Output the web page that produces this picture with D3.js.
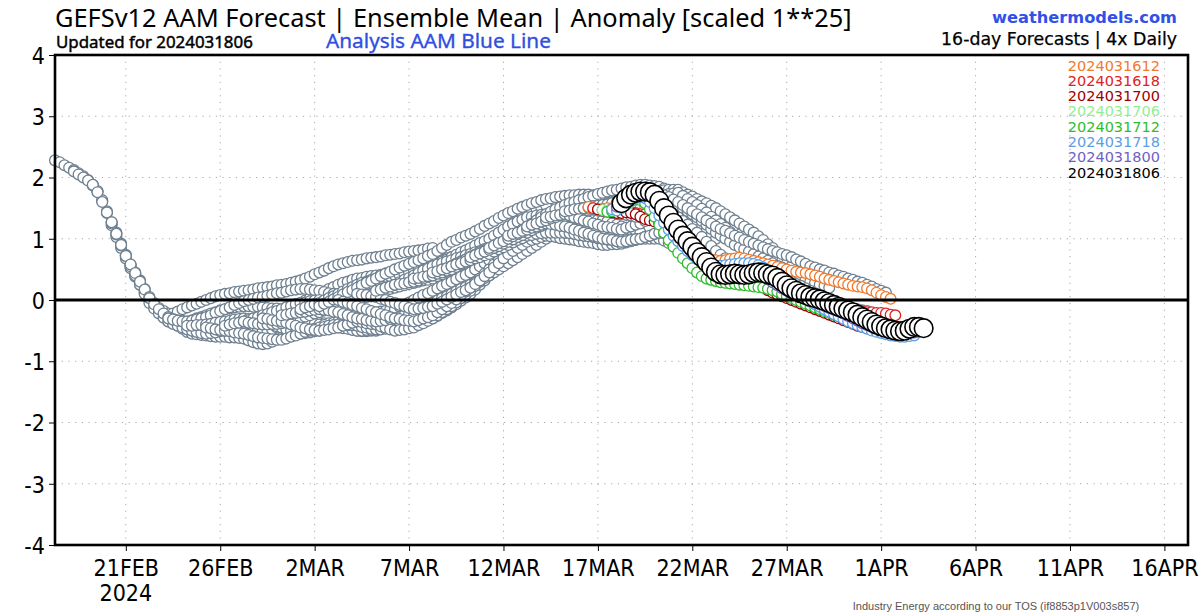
<!DOCTYPE html>
<html><head><meta charset="utf-8">
<script src="https://cdn.jsdelivr.net/npm/d3@7"></script>
<style>html,body{margin:0;padding:0;background:#fff}svg{display:block}</style>
</head><body>
<svg id="chart" width="1200" height="616"></svg>
<script>
// ---------------- DATA ----------------
const yTickValues = [-4,-3,-2,-1,0,1,2,3,4];
const xTickDates = ["2024-02-21T00:00Z","2024-02-26T00:00Z","2024-03-02T00:00Z","2024-03-07T00:00Z","2024-03-12T00:00Z","2024-03-17T00:00Z","2024-03-22T00:00Z","2024-03-27T00:00Z","2024-04-01T00:00Z","2024-04-06T00:00Z","2024-04-11T00:00Z","2024-04-16T00:00Z"];
const xTickLabels = ["21FEB","26FEB","2MAR","7MAR","12MAR","17MAR","22MAR","27MAR","1APR","6APR","11APR","16APR"];
const xDomain = ["2024-02-17T06:00Z","2024-04-17T06:00Z"];

// older forecasts (grey), 6-hourly values from their init time (06z each day)
const grayInits = ["2024-02-17","2024-02-18","2024-02-19","2024-02-20","2024-02-21","2024-02-22","2024-02-23","2024-02-24","2024-02-25","2024-02-26","2024-02-27","2024-02-28","2024-02-29","2024-03-01","2024-03-02","2024-03-03","2024-03-04","2024-03-05","2024-03-06","2024-03-07","2024-03-08","2024-03-09","2024-03-10","2024-03-11","2024-03-12","2024-03-13","2024-03-14","2024-03-15","2024-03-16"];
const g0217 = [2.28,2.25,2.20,2.16,2.12,2.07,2.02,1.96,1.88,1.77,1.62,1.45,1.27,1.10,0.92,0.74,0.58,0.45,0.32,0.18,0.03,-0.08,-0.17,-0.24,-0.30,-0.35,-0.38,-0.40,-0.42,-0.44,-0.46,-0.48,-0.50,-0.50,-0.49,-0.47,-0.45,-0.42,-0.40,-0.39,-0.40,-0.42,-0.45,-0.48,-0.50,-0.50,-0.48,-0.45,-0.42,-0.40,-0.38,-0.36,-0.35,-0.34,-0.34,-0.35,-0.37,-0.38,-0.38,-0.37,-0.35,-0.32,-0.30,-0.28,-0.25];
const g0218 = [2.10,2.05,2.00,1.95,1.87,1.78,1.63,1.42,1.22,1.03,0.85,0.68,0.52,0.38,0.25,0.12,0.00,-0.10,-0.19,-0.27,-0.33,-0.38,-0.42,-0.47,-0.52,-0.55,-0.56,-0.57,-0.58,-0.59,-0.60,-0.60,-0.60,-0.61,-0.61,-0.62,-0.63,-0.66,-0.69,-0.71,-0.72,-0.71,-0.68,-0.65,-0.62,-0.59,-0.56,-0.54,-0.52,-0.50,-0.48,-0.46,-0.45,-0.44,-0.43,-0.42,-0.42,-0.44,-0.46,-0.48,-0.50,-0.51,-0.51,-0.50,-0.50];
const g0219 = [1.88,1.76,1.60,1.43,1.25,1.07,0.89,0.72,0.56,0.42,0.28,0.14,0.00,-0.11,-0.20,-0.28,-0.35,-0.38,-0.41,-0.43,-0.45,-0.47,-0.48,-0.49,-0.50,-0.50,-0.49,-0.49,-0.48,-0.46,-0.44,-0.42,-0.40,-0.37,-0.35,-0.32,-0.30,-0.29,-0.29,-0.29,-0.30,-0.31,-0.32,-0.34,-0.35,-0.36,-0.37,-0.39,-0.40,-0.41,-0.42,-0.44,-0.45,-0.46,-0.47,-0.49,-0.50,-0.50,-0.49,-0.49,-0.48,-0.47,-0.46,-0.46,-0.45];
const g0220 = [1.27,1.08,0.90,0.72,0.55,0.40,0.25,0.10,-0.05,-0.14,-0.22,-0.29,-0.35,-0.39,-0.42,-0.45,-0.48,-0.50,-0.52,-0.54,-0.55,-0.54,-0.53,-0.51,-0.50,-0.47,-0.45,-0.42,-0.40,-0.37,-0.35,-0.32,-0.30,-0.27,-0.25,-0.22,-0.20,-0.17,-0.15,-0.12,-0.10,-0.08,-0.07,-0.06,-0.05,-0.06,-0.07,-0.09,-0.10,-0.13,-0.15,-0.18,-0.20,-0.23,-0.25,-0.28,-0.30,-0.31,-0.33,-0.34,-0.35,-0.34,-0.33,-0.31,-0.30];
const g0221 = [0.58,0.44,0.30,0.17,0.05,-0.05,-0.13,-0.18,-0.22,-0.22,-0.19,-0.15,-0.12,-0.09,-0.06,-0.03,0.00,0.03,0.06,0.08,0.10,0.11,0.13,0.14,0.15,0.16,0.17,0.19,0.20,0.21,0.22,0.24,0.25,0.26,0.28,0.30,0.32,0.35,0.38,0.42,0.45,0.48,0.52,0.55,0.58,0.60,0.62,0.64,0.65,0.66,0.68,0.69,0.70,0.71,0.73,0.74,0.75,0.76,0.78,0.79,0.80,0.81,0.82,0.84,0.85];
const g0222 = [0.03,-0.07,-0.15,-0.22,-0.28,-0.31,-0.33,-0.34,-0.35,-0.33,-0.30,-0.28,-0.25,-0.22,-0.20,-0.17,-0.15,-0.14,-0.12,-0.11,-0.10,-0.10,-0.11,-0.11,-0.12,-0.13,-0.14,-0.14,-0.15,-0.12,-0.10,-0.07,-0.05,-0.01,0.03,0.06,0.10,0.14,0.18,0.21,0.25,0.28,0.30,0.33,0.35,0.36,0.38,0.39,0.40,0.41,0.43,0.44,0.45,0.46,0.48,0.49,0.50,0.53,0.55,0.58,0.60,0.63,0.65,0.68,0.70];
const g0223 = [-0.30,-0.32,-0.34,-0.35,-0.35,-0.34,-0.32,-0.30,-0.28,-0.25,-0.21,-0.18,-0.15,-0.12,-0.08,-0.05,-0.02,0.00,0.02,0.04,0.05,0.07,0.09,0.11,0.12,0.14,0.16,0.17,0.18,0.18,0.17,0.16,0.15,0.13,0.11,0.10,0.08,0.07,0.06,0.05,0.05,0.07,0.09,0.10,0.12,0.14,0.17,0.20,0.22,0.25,0.29,0.32,0.35,0.38,0.40,0.43,0.45,0.48,0.50,0.53,0.55,0.56,0.58,0.59,0.60];
const g0224 = [-0.42,-0.42,-0.41,-0.41,-0.40,-0.39,-0.37,-0.36,-0.35,-0.34,-0.32,-0.31,-0.30,-0.31,-0.33,-0.34,-0.35,-0.38,-0.40,-0.43,-0.45,-0.48,-0.50,-0.53,-0.55,-0.54,-0.53,-0.51,-0.50,-0.47,-0.45,-0.42,-0.40,-0.37,-0.35,-0.32,-0.30,-0.29,-0.27,-0.26,-0.25,-0.24,-0.22,-0.21,-0.20,-0.17,-0.15,-0.12,-0.10,-0.06,-0.03,0.01,0.05,0.09,0.13,0.16,0.20,0.25,0.30,0.35,0.40,0.45,0.50,0.55,0.60];
const g0225 = [-0.45,-0.46,-0.48,-0.49,-0.50,-0.51,-0.53,-0.54,-0.55,-0.57,-0.59,-0.61,-0.62,-0.63,-0.64,-0.65,-0.65,-0.63,-0.60,-0.58,-0.55,-0.52,-0.50,-0.47,-0.45,-0.44,-0.42,-0.41,-0.40,-0.40,-0.41,-0.41,-0.42,-0.44,-0.45,-0.47,-0.48,-0.48,-0.47,-0.46,-0.45,-0.43,-0.41,-0.40,-0.38,-0.36,-0.34,-0.32,-0.30,-0.26,-0.21,-0.17,-0.12,-0.07,-0.01,0.04,0.10,0.17,0.25,0.32,0.40,0.48,0.55,0.63,0.70];
const g0226 = [-0.42,-0.40,-0.38,-0.37,-0.35,-0.33,-0.30,-0.28,-0.25,-0.23,-0.20,-0.18,-0.15,-0.12,-0.10,-0.07,-0.05,-0.04,-0.02,-0.01,0.00,-0.01,-0.02,-0.04,-0.05,-0.08,-0.10,-0.13,-0.15,-0.16,-0.18,-0.19,-0.20,-0.19,-0.18,-0.16,-0.15,-0.11,-0.08,-0.04,0.00,0.04,0.08,0.11,0.15,0.19,0.23,0.26,0.30,0.34,0.38,0.41,0.45,0.50,0.55,0.60,0.65,0.71,0.78,0.84,0.90,0.95,1.00,1.05,1.10];
const g0227 = [-0.35,-0.37,-0.38,-0.39,-0.40,-0.40,-0.39,-0.39,-0.38,-0.36,-0.34,-0.32,-0.30,-0.27,-0.25,-0.22,-0.20,-0.17,-0.15,-0.12,-0.10,-0.07,-0.05,-0.02,0.00,0.03,0.05,0.08,0.10,0.13,0.15,0.18,0.20,0.22,0.24,0.26,0.28,0.30,0.32,0.33,0.35,0.39,0.42,0.46,0.50,0.55,0.60,0.65,0.70,0.76,0.82,0.89,0.95,1.01,1.08,1.14,1.20,1.25,1.30,1.35,1.40,1.44,1.48,1.51,1.55];
const g0228 = [-0.30,-0.31,-0.33,-0.34,-0.35,-0.37,-0.40,-0.42,-0.45,-0.46,-0.48,-0.49,-0.50,-0.49,-0.48,-0.46,-0.45,-0.42,-0.40,-0.37,-0.35,-0.36,-0.38,-0.39,-0.40,-0.43,-0.45,-0.48,-0.50,-0.49,-0.48,-0.46,-0.45,-0.41,-0.38,-0.34,-0.30,-0.25,-0.20,-0.15,-0.10,-0.04,0.03,0.09,0.15,0.23,0.30,0.38,0.45,0.53,0.60,0.68,0.75,0.80,0.85,0.90,0.95,0.98,1.00,1.03,1.05,1.06,1.08,1.09,1.10];
const g0229 = [-0.25,-0.24,-0.22,-0.21,-0.20,-0.19,-0.17,-0.16,-0.15,-0.16,-0.17,-0.19,-0.20,-0.23,-0.25,-0.28,-0.30,-0.31,-0.33,-0.34,-0.35,-0.34,-0.33,-0.31,-0.30,-0.28,-0.25,-0.23,-0.20,-0.16,-0.12,-0.09,-0.05,-0.01,0.03,0.06,0.10,0.14,0.18,0.21,0.25,0.29,0.33,0.36,0.40,0.45,0.50,0.55,0.60,0.65,0.70,0.75,0.80,0.85,0.90,0.95,1.00,1.04,1.08,1.11,1.15,1.16,1.18,1.19,1.20];
const g0301 = [-0.15,-0.12,-0.10,-0.07,-0.05,-0.01,0.03,0.06,0.10,0.14,0.18,0.21,0.25,0.28,0.30,0.33,0.35,0.36,0.38,0.39,0.40,0.41,0.43,0.44,0.45,0.48,0.50,0.53,0.55,0.59,0.63,0.66,0.70,0.74,0.78,0.81,0.85,0.89,0.93,0.96,1.00,1.05,1.10,1.15,1.20,1.24,1.28,1.31,1.35,1.36,1.38,1.39,1.40,1.39,1.38,1.36,1.35,1.34,1.33,1.31,1.30,1.29,1.28,1.26,1.25];
const g0302 = [-0.10,-0.06,-0.03,0.01,0.05,0.09,0.13,0.16,0.20,0.24,0.28,0.31,0.35,0.39,0.43,0.46,0.50,0.53,0.56,0.59,0.62,0.65,0.68,0.72,0.75,0.80,0.85,0.90,0.95,0.98,1.02,1.05,1.08,1.12,1.16,1.21,1.25,1.29,1.34,1.38,1.42,1.45,1.49,1.52,1.55,1.58,1.60,1.63,1.65,1.66,1.68,1.69,1.70,1.71,1.71,1.72,1.72,1.72,1.71,1.71,1.70,1.69,1.68,1.66,1.65];
const g0303 = [0.00,-0.03,-0.05,-0.08,-0.10,-0.13,-0.15,-0.18,-0.20,-0.23,-0.25,-0.28,-0.30,-0.31,-0.33,-0.34,-0.35,-0.33,-0.30,-0.28,-0.25,-0.20,-0.15,-0.10,-0.05,0.01,0.08,0.14,0.20,0.28,0.35,0.43,0.50,0.58,0.65,0.73,0.80,0.86,0.93,0.99,1.05,1.09,1.13,1.16,1.20,1.23,1.25,1.28,1.30,1.31,1.33,1.34,1.35,1.34,1.33,1.31,1.30,1.28,1.25,1.23,1.20,1.18,1.15,1.13,1.10];
const g0304 = [0.10,0.09,0.08,0.06,0.05,0.02,0.00,-0.03,-0.05,-0.08,-0.10,-0.13,-0.15,-0.14,-0.13,-0.11,-0.10,-0.06,-0.03,0.01,0.05,0.09,0.13,0.16,0.20,0.26,0.32,0.39,0.45,0.53,0.60,0.68,0.75,0.80,0.85,0.90,0.95,0.98,1.00,1.03,1.05,1.04,1.03,1.01,1.00,0.99,0.98,0.96,0.95,0.94,0.93,0.91,0.90,0.90,0.91,0.91,0.92,0.94,0.96,0.98,1.00,1.01,1.03,1.04,1.05];
const g0305 = [0.15,0.17,0.20,0.22,0.25,0.29,0.33,0.36,0.40,0.44,0.48,0.51,0.55,0.58,0.60,0.63,0.65,0.68,0.70,0.73,0.75,0.78,0.80,0.83,0.85,0.89,0.93,0.96,1.00,1.04,1.08,1.11,1.15,1.19,1.23,1.26,1.30,1.34,1.38,1.41,1.45,1.48,1.50,1.53,1.55,1.56,1.58,1.59,1.60,1.59,1.58,1.56,1.55,1.54,1.53,1.51,1.50,1.49,1.48,1.46,1.45,1.43,1.40,1.38,1.35];
const g0306 = [0.25,0.26,0.27,0.29,0.30,0.32,0.35,0.38,0.40,0.44,0.48,0.51,0.55,0.59,0.63,0.66,0.70,0.74,0.78,0.81,0.85,0.89,0.93,0.96,1.00,1.03,1.05,1.08,1.10,1.11,1.13,1.14,1.15,1.14,1.13,1.11,1.10,1.09,1.08,1.06,1.05,1.04,1.03,1.01,1.00,0.99,0.99,0.98,0.98,0.98,0.99,0.99,1.00,1.00,1.00,1.00,1.00,0.97,0.93,0.89,0.85,0.79,0.73,0.66,0.60];
const g0307 = [0.35,0.36,0.38,0.39,0.40,0.43,0.45,0.48,0.50,0.54,0.58,0.61,0.65,0.69,0.73,0.76,0.80,0.84,0.88,0.91,0.95,0.99,1.03,1.06,1.10,1.14,1.18,1.21,1.25,1.29,1.33,1.36,1.40,1.43,1.45,1.48,1.50,1.51,1.53,1.54,1.55,1.58,1.60,1.63,1.65,1.68,1.70,1.73,1.75,1.74,1.73,1.71,1.70,1.65,1.60,1.55,1.50,1.44,1.38,1.31,1.25,1.19,1.13,1.06,1.00];
const g0308 = [0.45,0.47,0.50,0.52,0.55,0.59,0.62,0.66,0.70,0.74,0.78,0.81,0.85,0.89,0.93,0.96,1.00,1.05,1.10,1.15,1.20,1.25,1.30,1.35,1.40,1.44,1.48,1.51,1.55,1.58,1.60,1.63,1.65,1.68,1.70,1.73,1.75,1.77,1.79,1.80,1.82,1.84,1.85,1.87,1.88,1.88,1.87,1.86,1.85,1.82,1.79,1.75,1.72,1.68,1.64,1.59,1.55,1.51,1.47,1.42,1.38,1.34,1.30,1.26,1.22];
const g0309 = [0.55,0.58,0.60,0.63,0.65,0.68,0.70,0.73,0.75,0.79,0.83,0.86,0.90,0.94,0.98,1.01,1.05,1.06,1.08,1.09,1.10,1.10,1.10,1.10,1.10,1.09,1.08,1.06,1.05,1.04,1.03,1.01,1.00,0.99,0.98,0.96,0.95,0.96,0.98,0.99,1.00,1.03,1.05,1.08,1.10,1.11,1.13,1.14,1.15,1.11,1.08,1.04,1.00,0.94,0.88,0.81,0.75,0.70,0.65,0.60,0.55,0.53,0.50,0.48,0.45];
const g0310 = [0.70,0.73,0.76,0.79,0.82,0.85,0.88,0.92,0.95,0.99,1.03,1.06,1.10,1.14,1.18,1.21,1.25,1.28,1.30,1.33,1.35,1.38,1.40,1.43,1.45,1.48,1.50,1.53,1.55,1.56,1.58,1.59,1.60,1.63,1.65,1.68,1.70,1.72,1.74,1.76,1.78,1.79,1.80,1.80,1.80,1.76,1.72,1.69,1.65,1.61,1.58,1.54,1.50,1.45,1.40,1.35,1.30,1.25,1.20,1.15,1.10,1.04,0.98,0.91,0.85];
const g0311 = [0.85,0.89,0.93,0.96,1.00,1.04,1.08,1.11,1.15,1.19,1.23,1.26,1.30,1.33,1.35,1.38,1.40,1.43,1.45,1.48,1.50,1.51,1.53,1.54,1.55,1.56,1.58,1.59,1.60,1.61,1.63,1.64,1.65,1.66,1.68,1.69,1.70,1.71,1.73,1.74,1.75,1.70,1.65,1.60,1.55,1.49,1.43,1.36,1.30,1.24,1.18,1.11,1.05,1.00,0.95,0.90,0.85,0.81,0.78,0.74,0.70,0.66,0.63,0.59,0.55];
const g0312 = [1.05,1.08,1.10,1.13,1.15,1.18,1.20,1.23,1.25,1.24,1.23,1.21,1.20,1.18,1.15,1.13,1.10,1.08,1.05,1.03,1.00,0.99,0.98,0.96,0.95,0.96,0.98,0.99,1.00,1.03,1.05,1.08,1.10,1.09,1.08,1.06,1.05,1.00,0.95,0.90,0.85,0.79,0.73,0.66,0.60,0.56,0.53,0.49,0.45,0.43,0.40,0.38,0.35,0.33,0.30,0.28,0.25,0.21,0.18,0.14,0.10,0.08,0.05,0.03,0.00];
const g0313 = [1.20,1.23,1.25,1.28,1.30,1.33,1.35,1.38,1.40,1.41,1.43,1.44,1.45,1.46,1.48,1.49,1.50,1.51,1.53,1.54,1.55,1.56,1.58,1.59,1.60,1.61,1.63,1.64,1.65,1.63,1.60,1.58,1.55,1.50,1.45,1.40,1.35,1.29,1.23,1.16,1.10,1.05,1.00,0.95,0.90,0.86,0.83,0.79,0.75,0.71,0.68,0.64,0.60,0.56,0.53,0.49,0.45,0.41,0.38,0.34,0.30,0.28,0.25,0.23,0.20];
const g0314 = [1.35,1.36,1.38,1.39,1.40,1.38,1.35,1.33,1.30,1.28,1.25,1.23,1.20,1.19,1.18,1.16,1.15,1.18,1.20,1.23,1.25,1.29,1.33,1.36,1.40,1.39,1.38,1.36,1.35,1.29,1.23,1.16,1.10,1.03,0.95,0.88,0.80,0.74,0.68,0.61,0.55,0.53,0.50,0.48,0.45,0.44,0.43,0.41,0.40,0.38,0.35,0.33,0.30,0.26,0.23,0.19,0.15,0.11,0.08,0.04,0.00,-0.03,-0.06,-0.09,-0.12];
const g0315 = [1.45,1.46,1.48,1.49,1.50,1.49,1.48,1.46,1.45,1.44,1.43,1.41,1.40,1.39,1.38,1.36,1.35,1.34,1.33,1.31,1.30,1.25,1.20,1.15,1.10,1.04,0.98,0.91,0.85,0.79,0.73,0.66,0.60,0.56,0.53,0.49,0.45,0.44,0.43,0.41,0.40,0.39,0.38,0.36,0.35,0.31,0.28,0.24,0.20,0.16,0.13,0.09,0.05,0.03,0.00,-0.03,-0.05,-0.07,-0.09,-0.10,-0.12,-0.14,-0.15,-0.17,-0.18];
const g0316 = [1.50,1.51,1.53,1.54,1.55,1.56,1.58,1.59,1.60,1.63,1.65,1.68,1.70,1.71,1.73,1.74,1.75,1.71,1.68,1.64,1.60,1.55,1.50,1.45,1.40,1.35,1.30,1.25,1.20,1.16,1.13,1.09,1.05,1.02,0.98,0.95,0.92,0.89,0.86,0.83,0.80,0.78,0.75,0.73,0.70,0.66,0.63,0.59,0.55,0.53,0.50,0.48,0.45,0.43,0.40,0.38,0.35,0.33,0.30,0.28,0.25,0.22,0.18,0.15,0.12];
const grayRuns = [g0217,g0218,g0219,g0220,g0221,g0222,g0223,g0224,g0225,g0226,g0227,g0228,g0229,g0301,g0302,g0303,g0304,g0305,g0306,g0307,g0308,g0309,g0310,g0311,g0312,g0313,g0314,g0315,g0316];

// latest forecasts (coloured) and the current one (black)
const runNames = ["2024031612","2024031618","2024031700","2024031706","2024031712","2024031718","2024031800","2024031806"];
const runInits = ["2024-03-16T12:00Z","2024-03-16T18:00Z","2024-03-17T00:00Z","2024-03-17T06:00Z","2024-03-17T12:00Z","2024-03-17T18:00Z","2024-03-18T00:00Z","2024-03-18T06:00Z"];
const r031612 = [1.52,1.50,1.48,1.49,1.50,1.50,1.48,1.46,1.45,1.46,1.48,1.50,1.52,1.52,1.50,1.45,1.36,1.25,1.14,1.03,0.94,0.86,0.80,0.75,0.71,0.68,0.66,0.65,0.64,0.65,0.67,0.68,0.69,0.68,0.66,0.64,0.62,0.60,0.58,0.56,0.54,0.52,0.50,0.48,0.46,0.45,0.44,0.42,0.40,0.38,0.35,0.33,0.31,0.29,0.27,0.25,0.23,0.22,0.21,0.19,0.16,0.12,0.08,0.05,0.02];
const r031618 = [1.50,1.48,1.46,1.45,1.45,1.46,1.47,1.46,1.44,1.42,1.40,1.40,1.39,1.36,1.30,1.22,1.12,1.02,0.92,0.83,0.75,0.68,0.62,0.57,0.53,0.50,0.48,0.47,0.47,0.48,0.49,0.49,0.48,0.46,0.43,0.39,0.34,0.29,0.25,0.21,0.18,0.15,0.12,0.09,0.06,0.04,0.02,0.00,-0.02,-0.04,-0.06,-0.08,-0.10,-0.12,-0.14,-0.16,-0.18,-0.19,-0.20,-0.20,-0.21,-0.21,-0.22,-0.24,-0.25];
const r031700 = [1.48,1.47,1.45,1.43,1.42,1.42,1.43,1.42,1.40,1.36,1.32,1.30,1.28,1.25,1.18,1.08,0.97,0.86,0.76,0.67,0.59,0.53,0.48,0.45,0.43,0.42,0.42,0.43,0.44,0.45,0.44,0.42,0.38,0.33,0.27,0.21,0.16,0.12,0.09,0.06,0.03,0.00,-0.03,-0.06,-0.09,-0.12,-0.15,-0.18,-0.21,-0.24,-0.27,-0.30,-0.33,-0.36,-0.39,-0.42,-0.44,-0.46,-0.48,-0.49,-0.50,-0.50,-0.49,-0.48,-0.47];
const r031706 = [1.47,1.46,1.46,1.47,1.50,1.55,1.60,1.64,1.66,1.65,1.60,1.50,1.38,1.25,1.12,1.00,0.88,0.76,0.65,0.55,0.47,0.40,0.35,0.32,0.30,0.29,0.28,0.28,0.28,0.28,0.28,0.28,0.28,0.27,0.26,0.24,0.21,0.18,0.15,0.13,0.12,0.11,0.07,0.04,0.01,-0.01,-0.04,-0.07,-0.10,-0.13,-0.16,-0.19,-0.22,-0.26,-0.30,-0.34,-0.38,-0.42,-0.45,-0.48,-0.50,-0.52,-0.53,-0.53,-0.52];
const r031712 = [1.44,1.45,1.48,1.53,1.58,1.62,1.64,1.63,1.58,1.48,1.36,1.23,1.10,0.98,0.87,0.77,0.68,0.60,0.52,0.45,0.39,0.35,0.33,0.31,0.29,0.28,0.27,0.26,0.25,0.24,0.23,0.22,0.21,0.20,0.18,0.16,0.14,0.10,0.06,0.03,0.00,-0.03,-0.06,-0.09,-0.12,-0.15,-0.18,-0.21,-0.24,-0.26,-0.28,-0.30,-0.33,-0.35,-0.37,-0.39,-0.41,-0.43,-0.45,-0.47,-0.49,-0.51,-0.53,-0.55,-0.56];
const r031718 = [1.48,1.46,1.50,1.56,1.62,1.66,1.68,1.66,1.60,1.50,1.38,1.26,1.15,1.05,0.96,0.88,0.80,0.73,0.67,0.62,0.58,0.56,0.55,0.56,0.57,0.58,0.59,0.60,0.60,0.60,0.59,0.57,0.53,0.47,0.40,0.33,0.26,0.20,0.14,0.09,0.05,0.01,-0.03,-0.07,-0.11,-0.15,-0.19,-0.23,-0.27,-0.31,-0.35,-0.38,-0.41,-0.44,-0.47,-0.50,-0.52,-0.54,-0.56,-0.58,-0.59,-0.60,-0.60,-0.59,-0.58];
const r031800 = [1.52,1.58,1.64,1.70,1.73,1.74,1.73,1.70,1.63,1.53,1.41,1.29,1.18,1.07,0.97,0.88,0.79,0.70,0.62,0.55,0.49,0.45,0.43,0.42,0.42,0.43,0.44,0.44,0.44,0.43,0.41,0.38,0.34,0.29,0.24,0.19,0.15,0.11,0.08,0.05,0.02,-0.01,-0.04,-0.07,-0.10,-0.13,-0.16,-0.19,-0.22,-0.26,-0.30,-0.34,-0.38,-0.41,-0.44,-0.47,-0.49,-0.51,-0.53,-0.54,-0.55,-0.55,-0.54,-0.53,-0.52];
const r031806 = [1.58,1.66,1.72,1.75,1.77,1.77,1.76,1.72,1.62,1.50,1.38,1.26,1.15,1.05,0.96,0.87,0.78,0.70,0.62,0.53,0.46,0.42,0.41,0.42,0.43,0.42,0.41,0.42,0.44,0.45,0.44,0.42,0.40,0.36,0.30,0.24,0.19,0.15,0.11,0.08,0.05,0.03,0.01,-0.02,-0.05,-0.08,-0.11,-0.14,-0.17,-0.20,-0.24,-0.28,-0.32,-0.36,-0.40,-0.43,-0.46,-0.48,-0.50,-0.51,-0.50,-0.47,-0.44,-0.44,-0.46];
const runValues = [r031612,r031618,r031700,r031706,r031712,r031718,r031800,r031806];

// ---------------- STYLE ----------------
const runColors = ["#f2792b","#de2222","#9e0000","#92ee92","#2fbd2f","#5b9ee6","#6f5fc4","#000000"];
const grayColor = "#6f8090";

// ---------------- DRAW ----------------
const M = {left:55, right:1188, top:55, bottom:545};
const svg = d3.select("#chart");
const SIX_H = 6*3600*1000;

const x = d3.scaleUtc().domain(xDomain.map(d=>new Date(d))).range([M.left, M.right]);
const y = d3.scaleLinear().domain([-4,4]).range([M.bottom, M.top]);

// grid
const grid = svg.append("g").attr("stroke","#a8a8a8").attr("stroke-width",1).attr("stroke-dasharray","1.2,5.5");
grid.selectAll("line.h").data(yTickValues.filter(v=>v!==0 && Math.abs(v)!==4)).join("line")
  .attr("x1",M.left).attr("x2",M.right).attr("y1",d=>y(d)).attr("y2",d=>y(d));
grid.selectAll("line.v").data(xTickDates).join("line")
  .attr("x1",d=>x(new Date(d))).attr("x2",d=>x(new Date(d))).attr("y1",M.top).attr("y2",M.bottom);

function drawRun(g, init, vals, r, stroke, sw){
  const t0 = new Date(init).getTime();
  g.append("g").selectAll("circle").data(vals).join("circle")
    .attr("cx",(v,i)=>x(new Date(t0+i*SIX_H)))
    .attr("cy",v=>y(v))
    .attr("r",r).attr("fill","#fff").attr("stroke",stroke).attr("stroke-width",sw);
}
const marks = svg.append("g");
grayRuns.forEach((vals,k)=>drawRun(marks, grayInits[k]+"T06:00Z", vals, 5.4, grayColor, 1.3));
runValues.forEach((vals,k)=>{
  const last = k===runValues.length-1;
  drawRun(marks, runInits[k], vals, last?9.3:5.3, runColors[k], last?1.6:1.3);
});

// zero line
svg.append("line").attr("x1",M.left).attr("x2",M.right).attr("y1",y(0)).attr("y2",y(0))
  .attr("stroke","#000").attr("stroke-width",3.2);

// axes
const tickFont = "'Liberation Sans Narrow','DejaVu Sans Condensed','Roboto Condensed',sans-serif";
const yAxis = svg.append("g").attr("transform",`translate(${M.left},0)`)
  .call(d3.axisLeft(y).tickValues(yTickValues).tickSize(6).tickPadding(4).tickFormat(d=>String(d)));
const xAxis = svg.append("g").attr("transform",`translate(0,${M.bottom})`)
  .call(d3.axisBottom(x).tickValues(xTickDates.map(d=>new Date(d))).tickSize(6).tickPadding(7).tickFormat((d,i)=>xTickLabels[i]));
[yAxis,xAxis].forEach(a=>{
  a.select(".domain").remove();
  a.selectAll(".tick line").attr("stroke","#000").attr("stroke-width",1);
  a.selectAll(".tick text").attr("fill","#000").style("font-family",tickFont).style("font-size","23px");
});
yAxis.selectAll(".tick text").attr("dy","0.36em");
xAxis.selectAll(".tick text").attr("dy","0.78em");
svg.append("text").attr("x",x(new Date(xTickDates[0]))).attr("y",601).attr("text-anchor","middle")
  .style("font-family",tickFont).style("font-size","23px").text("2024");

// frame
svg.append("rect").attr("x",M.left).attr("y",M.top).attr("width",M.right-M.left).attr("height",M.bottom-M.top)
  .attr("fill","none").attr("stroke","#000").attr("stroke-width",2.6);

// texts
function fit(sel, width){
  const n = sel.node(); const w = n.getComputedTextLength();
  const fs = parseFloat(sel.style("font-size"));
  if (w>0) sel.style("font-size",(fs*width/w).toFixed(2)+"px");
  return sel;
}
const titleFont = "'Noto Sans','Open Sans',sans-serif";
fit(svg.append("text").attr("x",55).attr("y",26.5).style("font-family",titleFont).style("font-size","24px")
  .text("GEFSv12 AAM Forecast | Ensemble Mean | Anomaly [scaled 1**25]"), 797);
fit(svg.append("text").attr("x",56).attr("y",48).attr("stroke","#000").attr("stroke-width",0.45).style("font-family",titleFont).style("font-size","17px")
  .text("Updated for 2024031806"), 197);
fit(svg.append("text").attr("x",326).attr("y",48).attr("fill","#2f4fe0").attr("stroke","#2f4fe0").attr("stroke-width",0.35).style("font-family",titleFont).style("font-size","17px")
  .text("Analysis AAM Blue Line"), 225);
fit(svg.append("text").attr("x",1177).attr("y",23).attr("text-anchor","end").attr("fill","#3050e8").style("font-family","'DejaVu Sans',sans-serif").style("font-size","16px").style("font-weight","bold")
  .text("weathermodels.com"), 185);
fit(svg.append("text").attr("x",1177).attr("y",45).attr("text-anchor","end").attr("fill","#000").attr("stroke","#000").attr("stroke-width",0.25).style("font-family","'DejaVu Sans',sans-serif").style("font-size","15px")
  .text("16-day Forecasts | 4x Daily"), 236);

// legend
svg.append("g").selectAll("text").data(runNames).join("text")
  .attr("x",1160).attr("y",(d,i)=>70.5+i*15.3).attr("text-anchor","end")
  .attr("fill",(d,i)=>runColors[i]).style("font-family","'DejaVu Sans',sans-serif").style("font-size","14.5px")
  .text(d=>d);

// footer
svg.append("text").attr("x",996).attr("y",610).attr("text-anchor","middle").attr("fill","#555")
  .style("font-family","'Liberation Sans',Arial,sans-serif").style("font-size","11px")
  .text("Industry Energy according to our TOS (if8853p1V003s857)");
</script>
</body></html>
